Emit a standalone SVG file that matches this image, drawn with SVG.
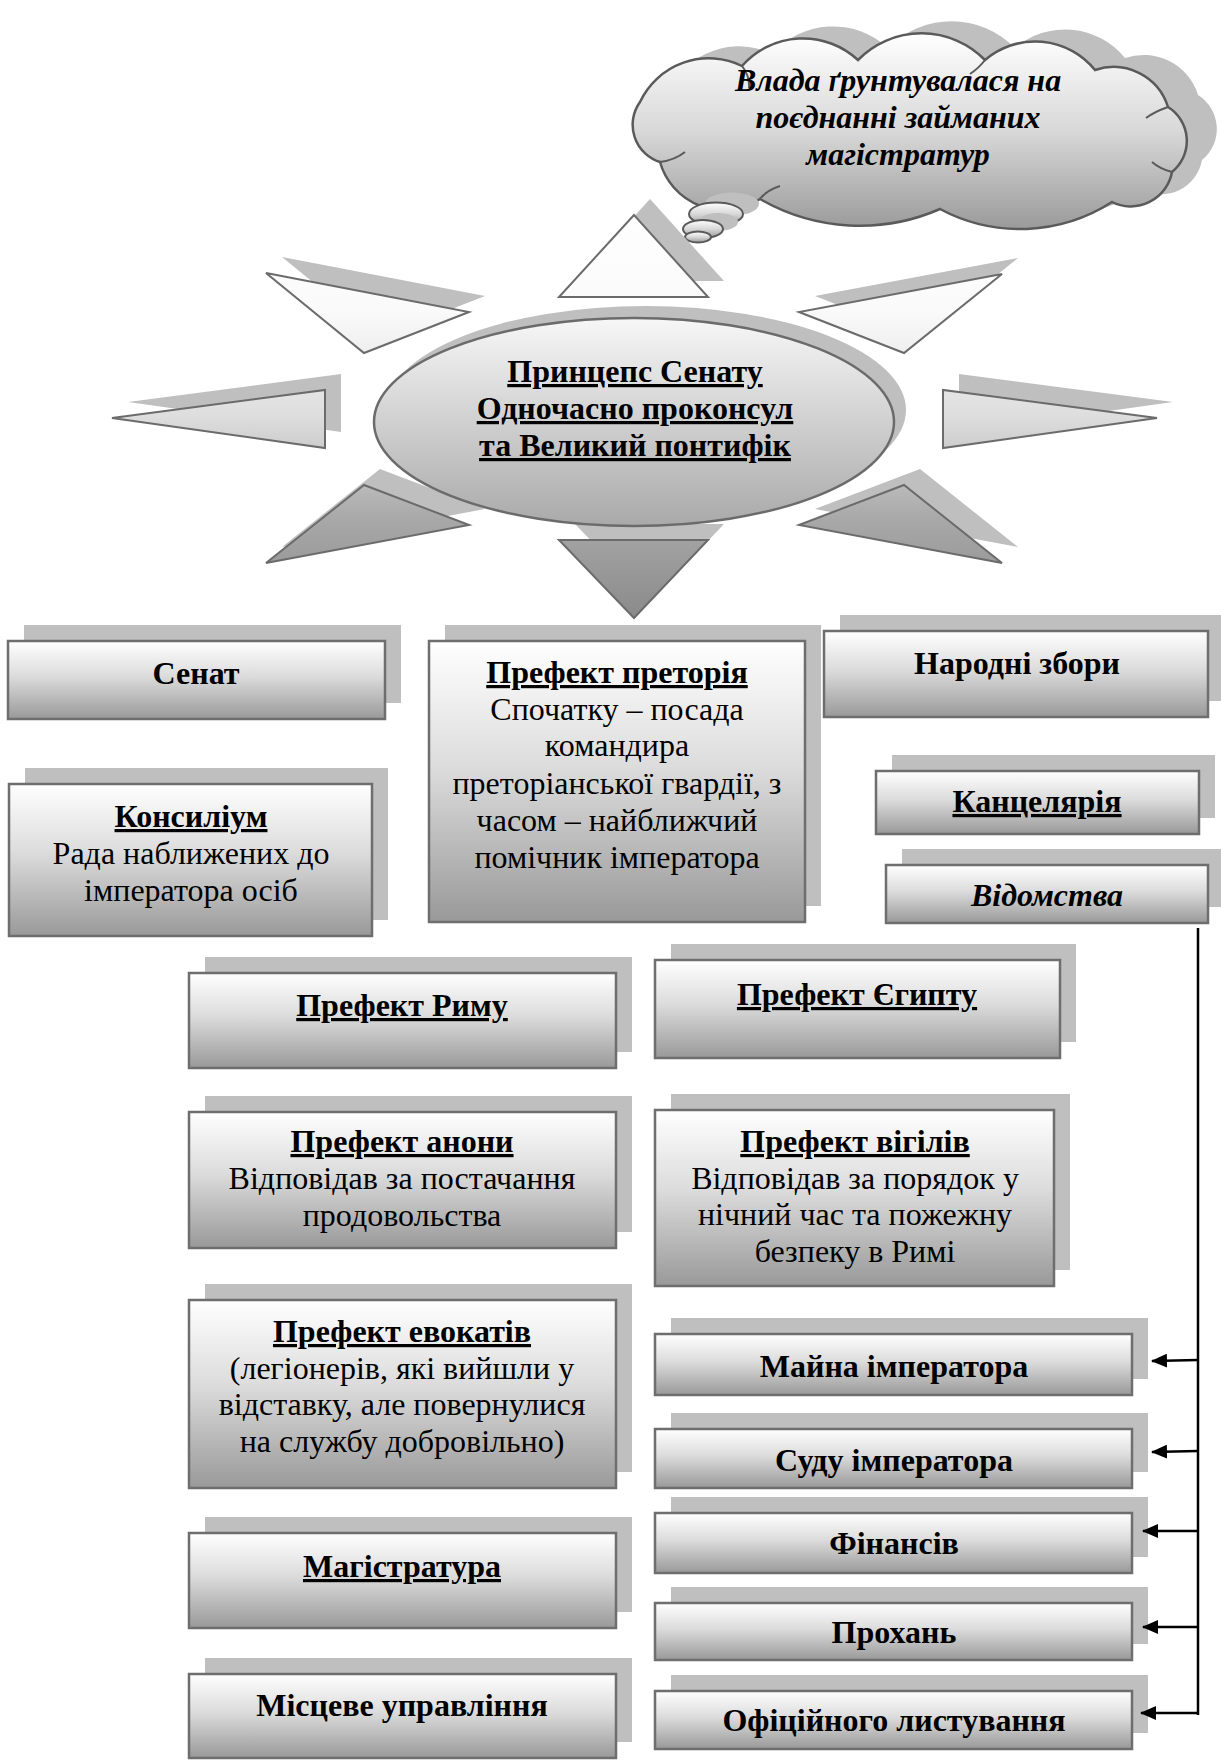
<svg xmlns="http://www.w3.org/2000/svg" width="1221" height="1762" viewBox="0 0 1221 1762">
<defs>
<linearGradient id="gb" x1="0" y1="0" x2="0" y2="1">
<stop offset="0" stop-color="#ffffff"/>
<stop offset="0.45" stop-color="#dcdcdc"/>
<stop offset="1" stop-color="#999999"/>
</linearGradient>
<linearGradient id="gsun" gradientUnits="userSpaceOnUse" x1="0" y1="205" x2="0" y2="625">
<stop offset="0" stop-color="#ffffff"/>
<stop offset="0.25" stop-color="#fafafa"/>
<stop offset="0.5" stop-color="#dedede"/>
<stop offset="0.75" stop-color="#a8a8a8"/>
<stop offset="1" stop-color="#888888"/>
</linearGradient>
<linearGradient id="gell" x1="0" y1="0" x2="0" y2="1">
<stop offset="0" stop-color="#f7f7f7"/>
<stop offset="1" stop-color="#a9a9a9"/>
</linearGradient>
<linearGradient id="gcl" x1="0" y1="0" x2="0" y2="1">
<stop offset="0" stop-color="#ffffff"/>
<stop offset="0.5" stop-color="#d8d8d8"/>
<stop offset="1" stop-color="#9a9a9a"/>
</linearGradient>
<marker id="ah" markerWidth="16" markerHeight="14" refX="15" refY="7" orient="auto" markerUnits="userSpaceOnUse">
<path d="M0,0 L16,7 L0,14 z" fill="#000"/>
</marker>
<path id="cloud" d="M640,102 A76,76 0 0 1 742,66 A81,81 0 0 1 858,60 A89,89 0 0 1 985,60 A77,77 0 0 1 1095,70 A57,57 0 0 1 1168,107 A40,40 0 0 1 1172,172 A42,42 0 0 1 1112,202 A170,170 0 0 1 940,209 A200,200 0 0 1 760,199 A66,66 0 0 1 660,162 A39,39 0 0 1 640,102 Z"/>
</defs>
<style>
.sh{fill:#bfbfbf}
.bx{fill:url(#gb);stroke:#6e6e6e;stroke-width:2.5}
.ray{fill:url(#gsun);stroke:#6b6b6b;stroke-width:2}
.t{font-family:"Liberation Serif","Times New Roman",serif;font-size:32px;fill:#000;text-anchor:middle}
.b{font-weight:bold}
.u{text-decoration:underline}
.i{font-style:italic}
.con{stroke:#000;stroke-width:2.5;fill:none}
.cl{fill:url(#gcl);stroke:#5a5a5a;stroke-width:2}
</style>

<g id="cloud-node">
<use href="#cloud" transform="translate(30,-12)" class="sh"/>
<use href="#cloud" fill="url(#gcl)" stroke="#5a5a5a" stroke-width="2.5"/>
<path d="M742,66 Q750,76 749,88 M985,60 Q979,68 970,74 M1168,107 Q1154,112 1146,118 M1172,172 Q1160,169 1152,162 M760,199 Q767,190 780,186 M660,162 Q675,160 685,152" fill="none" stroke="#5a5a5a" stroke-width="2"/>
<ellipse cx="732" cy="204" rx="27" ry="11.5" class="sh"/>
<ellipse cx="716" cy="214" rx="27" ry="11.5" class="cl"/>
<ellipse cx="718" cy="222" rx="20" ry="9" class="sh"/>
<ellipse cx="703" cy="229" rx="20" ry="9" class="cl"/>
<ellipse cx="698" cy="237" rx="13" ry="5.5" class="cl"/>
<text class="t b i" x="898" y="91">Влада ґрунтувалася на</text>
<text class="t b i" x="898" y="128">поєднанні займаних</text>
<text class="t b i" x="898" y="165">магістратур</text>
</g>

<g id="sun">
<g transform="translate(16,-16)" class="sh">
<polygon points="634,215 559,297 708,297"/>
<polygon points="266,273 469,312 364,353"/>
<polygon points="1002,274 799,312 904,353"/>
<polygon points="112,418 325,390 325,448"/>
<polygon points="1157,418 943,390 943,448"/>
<polygon points="266,563 364,485 469,525"/>
<polygon points="1002,563 904,485 799,525"/>
<polygon points="559,540 708,540 634,618"/>
</g>
<polygon class="ray" points="634,215 559,297 708,297"/>
<polygon class="ray" points="266,273 469,312 364,353"/>
<polygon class="ray" points="1002,274 799,312 904,353"/>
<polygon class="ray" points="112,418 325,390 325,448"/>
<polygon class="ray" points="1157,418 943,390 943,448"/>
<polygon class="ray" points="266,563 364,485 469,525"/>
<polygon class="ray" points="1002,563 904,485 799,525"/>
<polygon class="ray" points="559,540 708,540 634,618"/>
</g>

<g id="princeps">
<ellipse cx="646" cy="410" rx="260" ry="104" class="sh"/>
<ellipse cx="634" cy="422" rx="260" ry="104" fill="url(#gell)" stroke="#6b6b6b" stroke-width="2.5"/>
<text class="t b u" x="635" y="382">Принцепс Сенату</text>
<text class="t b u" x="635" y="419">Одночасно проконсул</text>
<text class="t b u" x="635" y="456">та Великий понтифік</text>
</g>

<g id="senate">
<rect class="sh" x="24" y="625" width="377" height="78"/>
<rect class="bx" x="8" y="641" width="377" height="78"/>
<text class="t b" x="196" y="684">Сенат</text>
</g>

<g id="consilium">
<rect class="sh" x="25" y="768" width="363" height="152"/>
<rect class="bx" x="9" y="784" width="363" height="152"/>
<text class="t b u" x="191" y="827">Консиліум</text>
<text class="t" x="191" y="864">Рада наближених до</text>
<text class="t" x="191" y="901">імператора осіб</text>
</g>

<g id="praetorian">
<rect class="sh" x="445" y="625" width="376" height="281"/>
<rect class="bx" x="429" y="641" width="376" height="281"/>
<text class="t b u" x="617" y="683">Префект преторія</text>
<text class="t" x="617" y="720">Спочатку – посада</text>
<text class="t" x="617" y="756">командира</text>
<text class="t" x="617" y="794">преторіанської гвардії, з</text>
<text class="t" x="617" y="831">часом – найближчий</text>
<text class="t" x="617" y="868">помічник імператора</text>
</g>

<g id="assembly">
<rect class="sh" x="840" y="615" width="384" height="86"/>
<rect class="bx" x="824" y="631" width="384" height="86"/>
<text class="t b" x="1017" y="674">Народні збори</text>
</g>

<g id="chancellery">
<rect class="sh" x="892" y="755" width="323" height="63"/>
<rect class="bx" x="876" y="771" width="323" height="63"/>
<text class="t b u" x="1037" y="812">Канцелярія</text>
</g>

<g id="departments">
<rect class="sh" x="902" y="849" width="322" height="58"/>
<rect class="bx" x="886" y="865" width="322" height="58"/>
<text class="t b i" x="1047" y="906">Відомства</text>
</g>

<g id="prefect-rome">
<rect class="sh" x="205" y="957" width="427" height="95"/>
<rect class="bx" x="189" y="973" width="427" height="95"/>
<text class="t b u" x="402" y="1016">Префект Риму</text>
</g>

<g id="prefect-annona">
<rect class="sh" x="205" y="1096" width="427" height="136"/>
<rect class="bx" x="189" y="1112" width="427" height="136"/>
<text class="t b u" x="402" y="1152">Префект анони</text>
<text class="t" x="402" y="1189">Відповідав за постачання</text>
<text class="t" x="402" y="1226">продовольства</text>
</g>

<g id="prefect-evocati">
<rect class="sh" x="205" y="1284" width="427" height="188"/>
<rect class="bx" x="189" y="1300" width="427" height="188"/>
<text class="t b u" x="402" y="1342">Префект евокатів</text>
<text class="t" x="402" y="1379">(легіонерів, які вийшли у</text>
<text class="t" x="402" y="1415">відставку, але повернулися</text>
<text class="t" x="402" y="1452">на службу добровільно)</text>
</g>

<g id="magistracy">
<rect class="sh" x="205" y="1517" width="427" height="95"/>
<rect class="bx" x="189" y="1533" width="427" height="95"/>
<text class="t b u" x="402" y="1577">Магістратура</text>
</g>

<g id="local-government">
<rect class="sh" x="205" y="1658" width="427" height="84"/>
<rect class="bx" x="189" y="1674" width="427" height="84"/>
<text class="t b" x="402" y="1716">Місцеве управління</text>
</g>

<g id="prefect-egypt">
<rect class="sh" x="671" y="944" width="405" height="98"/>
<rect class="bx" x="655" y="960" width="405" height="98"/>
<text class="t b u" x="857" y="1005">Префект Єгипту</text>
</g>

<g id="prefect-vigiles">
<rect class="sh" x="671" y="1094" width="399" height="176"/>
<rect class="bx" x="655" y="1110" width="399" height="176"/>
<text class="t b u" x="855" y="1152">Префект вігілів</text>
<text class="t" x="855" y="1189">Відповідав за порядок у</text>
<text class="t" x="855" y="1225">нічний час та пожежну</text>
<text class="t" x="855" y="1262">безпеку в Римі</text>
</g>

<g id="dept-property">
<rect class="sh" x="671" y="1318" width="477" height="61"/>
<rect class="bx" x="655" y="1334" width="477" height="61"/>
<text class="t b" x="894" y="1377">Майна імператора</text>
</g>

<g id="dept-court">
<rect class="sh" x="671" y="1413" width="477" height="59"/>
<rect class="bx" x="655" y="1429" width="477" height="59"/>
<text class="t b" x="894" y="1471">Суду імператора</text>
</g>

<g id="dept-finance">
<rect class="sh" x="671" y="1497" width="477" height="60"/>
<rect class="bx" x="655" y="1513" width="477" height="60"/>
<text class="t b" x="894" y="1554">Фінансів</text>
</g>

<g id="dept-petitions">
<rect class="sh" x="671" y="1587" width="477" height="57"/>
<rect class="bx" x="655" y="1603" width="477" height="57"/>
<text class="t b" x="894" y="1643">Прохань</text>
</g>

<g id="dept-correspondence">
<rect class="sh" x="671" y="1675" width="477" height="58"/>
<rect class="bx" x="655" y="1691" width="477" height="58"/>
<text class="t b" x="894" y="1731">Офіційного листування</text>
</g>

<g id="connectors">
<line class="con" x1="1198" y1="928" x2="1198" y2="1715"/>
<line class="con" x1="1198" y1="1360" x2="1152" y2="1361" marker-end="url(#ah)"/>
<line class="con" x1="1198" y1="1451" x2="1152" y2="1452" marker-end="url(#ah)"/>
<line class="con" x1="1198" y1="1531" x2="1143" y2="1531" marker-end="url(#ah)"/>
<line class="con" x1="1198" y1="1627" x2="1143" y2="1627" marker-end="url(#ah)"/>
<line class="con" x1="1198" y1="1713" x2="1141" y2="1713" marker-end="url(#ah)"/>
</g>
</svg>
